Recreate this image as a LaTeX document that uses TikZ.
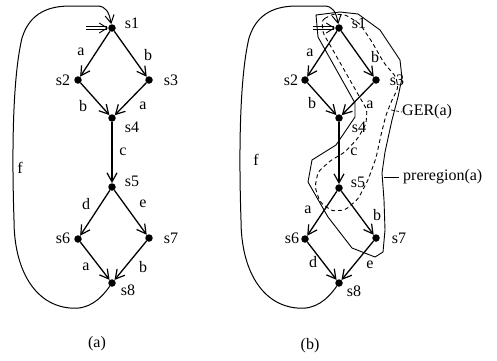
\documentclass[tikz,border=0pt]{standalone}
\usepackage{fontspec}
\setmainfont{Liberation Serif}
\usetikzlibrary{arrows.meta}
\begin{document}
\begin{tikzpicture}[x=1pt,y=-1pt,
  st/.style={circle,fill=black,inner sep=0pt,minimum size=7.5pt},
  tr/.style={line width=1.3pt,-{Straight Barb[length=9pt,width=10pt,line width=1.2pt]}},
  lp/.style={line width=1pt,-{Straight Barb[length=8pt,width=9pt,line width=1pt]}},
  init/.style={double,double distance=2.4pt,line width=0.7pt,-{Straight Barb[length=8pt,width=10pt,line width=0.9pt]}},
  lbl/.style={font=\fontsize{16}{18}\selectfont,inner sep=0pt},
  region/.style={line width=0.9pt,line join=miter},
  gerreg/.style={line width=0.9pt,dashed,dash pattern=on 4pt off 3pt,rounded corners=3pt}]
\useasboundingbox (0,0) rectangle (497,360);

% ---------------- (a) ----------------
\begin{scope}[name prefix=a-]
  \node[st] (s1) at (112,28) {};
  \node[st] (s2) at (78,80) {};
  \node[st] (s3) at (149,80) {};
  \node[st] (s4) at (112,118) {};
  \node[st] (s5) at (112,187) {};
  \node[st] (s6) at (78,239) {};
  \node[st] (s7) at (149,238) {};
  \node[st] (s8) at (112,283) {};
  \node[lbl] (n1) at (132,23) {s1};
  \node[lbl] (n2) at (63,80) {s2};
  \node[lbl] (n3) at (171,80) {s3};
  \node[lbl] (n4) at (132,127) {s4};
  \node[lbl] (n5) at (132,181) {s5};
  \node[lbl] (n6) at (63,238) {s6};
  \node[lbl] (n7) at (171,238) {s7};
  \node[lbl] (n8) at (128,290) {s8};
  \draw[tr] (s1) -- (s2);
  \draw[tr] (s1) -- (s3);
  \draw[tr] (s2) -- (s4);
  \draw[tr] (s3) -- (s4);
  \draw[tr] (s4) -- (s5);
  \draw[tr] (s5) -- (s6);
  \draw[tr] (s5) -- (s7);
  \draw[tr] (s6) -- (s8);
  \draw[tr] (s7) -- (s8);
  \node[lbl] (l1) at (81,52) {a};
  \node[lbl] (l2) at (148,55) {b};
  \node[lbl] (l3) at (83,106) {b};
  \node[lbl] (l4) at (143,106) {a};
  \node[lbl] (l5) at (123,152) {c};
  \node[lbl] (l6) at (86,204) {d};
  \node[lbl] (l7) at (143,204) {e};
  \node[lbl] (l8) at (86,267) {a};
  \node[lbl] (l9) at (143,267) {b};
  \node[lbl] (lf) at (20,168) {f};
  \coordinate (i) at (86,28);
  \draw[init] (i) -- (s1);
  \draw[lp] (s8) .. controls (100,300) and (88,310) .. (70,308)
     .. controls (35,305) and (14,270) .. (14,220)
     .. controls (12,160) and (12,80) .. (22,38)
     .. controls (30,12) and (50,6) .. (70,6) -- (97,6)
     .. controls (106,6) and (109,12) .. (s1);
  \node[lbl] (cap) at (97,344) {(a)};
\end{scope}

% ---------------- (b) ----------------
\begin{scope}[name prefix=b-,xshift=227pt]
  \node[st] (s1) at (112,28) {};
  \node[st] (s2) at (78,80) {};
  \node[st] (s3) at (149,80) {};
  \node[st] (s4) at (112,118) {};
  \node[st] (s5) at (112,188) {};
  \node[st] (s6) at (78,239) {};
  \node[st] (s7) at (149,238) {};
  \node[st] (s8) at (112,283) {};
  \node[lbl] (n1) at (132,23) {s1};
  \node[lbl] (n2) at (64,80) {s2};
  \node[lbl] (n3) at (170,80) {s3};
  \node[lbl] (n4) at (132,127) {s4};
  \node[lbl] (n5) at (131,182) {s5};
  \node[lbl] (n6) at (65,238) {s6};
  \node[lbl] (n7) at (172,238) {s7};
  \node[lbl] (n8) at (127,291) {s8};
  \draw[tr] (s1) -- (s2);
  \draw[tr] (s1) -- (s3);
  \draw[tr] (s2) -- (s4);
  \draw[tr] (s3) -- (s4);
  \draw[tr] (s4) -- (s5);
  \draw[tr] (s5) -- (s6);
  \draw[tr] (s5) -- (s7);
  \draw[tr] (s6) -- (s8);
  \draw[tr] (s7) -- (s8);
  \node[lbl] (l1) at (83,53) {a};
  \node[lbl] (l2) at (148,57) {b};
  \node[lbl] (l3) at (85,103) {b};
  \node[lbl] (l4) at (143,105) {a};
  \node[lbl] (l5) at (127,152) {c};
  \node[lbl] (l6) at (81,210) {a};
  \node[lbl] (l7) at (150,215) {b};
  \node[lbl] (l8) at (86,262) {d};
  \node[lbl] (l9) at (143,265) {e};
  \node[lbl] (lf) at (29,160) {f};
  \coordinate (i) at (86,28);
  \draw[init] (i) -- (s1);
  \draw[lp] (s8) .. controls (100,300) and (88,310) .. (70,308)
     .. controls (35,305) and (14,270) .. (14,220)
     .. controls (12,160) and (12,80) .. (22,38)
     .. controls (30,12) and (50,6) .. (70,6) -- (97,6)
     .. controls (106,6) and (109,12) .. (s1);
  \node[lbl] (cap) at (83,346) {(b)};
\end{scope}

% preregion(a): solid outline
\draw[region] (316,15) -- (340,12) -- (358,14) -- (380,30) -- (400,60) -- (402,78)
  -- (398,97) -- (392,120) -- (385,152) -- (382,173) -- (384,200) -- (385,230)
  -- (383,252) -- (375,257) -- (352,248) -- (328,217) -- (308,182) -- (312,160)
  -- (336,145) -- (355,117) -- (355,103) -- (318,37) -- cycle;
% GER(a): dashed outline
\draw[gerreg] (322,20) -- (333,14) -- (346,15) -- (360,24) -- (372,42) -- (384,63)
  -- (396,77) -- (398,88) -- (392,100) -- (386,115) -- (381,135) -- (376,158)
  -- (368,180) -- (358,199) -- (345,210) -- (332,211) -- (320,202) -- (315,187)
  -- (318,172) -- (330,161) -- (345,152) -- (358,138) -- (366,124) -- (367,110)
  -- (330,45) -- (323,33) -- cycle;

\coordinate (gl) at (391,110);
\node[lbl,anchor=west] (ger) at (402,112) {GER(a)};
\draw[line width=0.7pt,dashed,dash pattern=on 3pt off 2pt] (gl) -- (ger.west);
\coordinate (pl) at (384,177);
\node[lbl,anchor=west] (pre) at (403,177) {preregion(a)};
\draw[line width=0.8pt] (pl) -- ([xshift=-4pt]pre.west);
\end{tikzpicture}
\end{document}
